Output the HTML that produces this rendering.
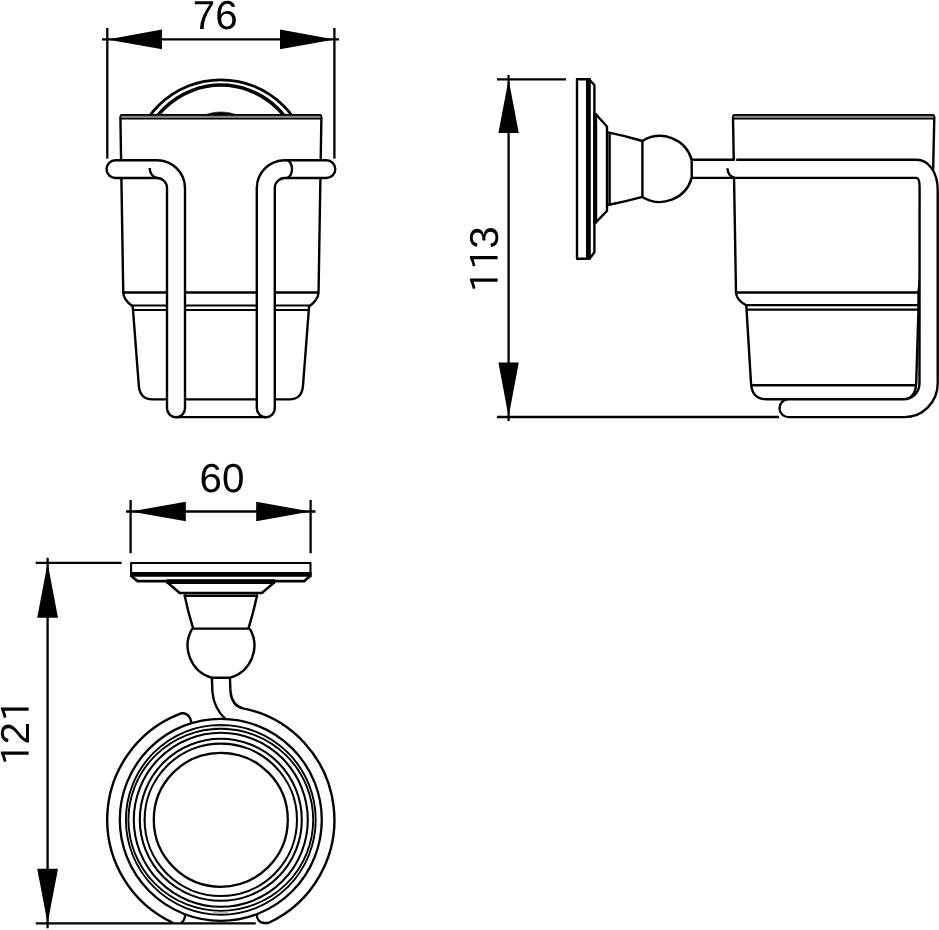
<!DOCTYPE html>
<html><head><meta charset="utf-8"><title>Dimensions</title>
<style>
html,body{margin:0;padding:0;background:#fff;}
svg{display:block;}
.d{font-family:"Liberation Sans",Arial,sans-serif;font-size:40.4px;fill:#000;text-rendering:geometricPrecision;}
svg{will-change:transform;}
.o{font-family:"IPAPGothic","IPAGothic","Liberation Sans",sans-serif;font-size:38px;}
</style></head><body>
<svg width="939" height="930" viewBox="0 0 939 930" stroke-linecap="butt" stroke-linejoin="round">
<rect width="939" height="930" fill="#fff"/>
<g id="front">
<line x1="107.3" y1="28" x2="107.3" y2="158.6" stroke="#000" stroke-width="2.3" />
<line x1="334.4" y1="28" x2="334.4" y2="158.6" stroke="#000" stroke-width="2.3" />
<line x1="102" y1="39.4" x2="339" y2="39.4" stroke="#000" stroke-width="2.3" />
<polygon points="107.3,39.4 162,29.6 162,49.2" fill="#000"/>
<polygon points="334.4,39.4 280,29.6 280,49.2" fill="#000"/>
<text id="t76" x="192.7" y="29" class="d">76</text>
<clipPath id="cpA"><rect x="100" y="60" width="250" height="54.6"/></clipPath>
<g clip-path="url(#cpA)"><circle cx="220.9" cy="168.4" r="88.5" fill="none" stroke="#000" stroke-width="2.7"/><circle cx="220.9" cy="165.7" r="80.6" fill="none" stroke="#000" stroke-width="3.5"/></g>
<path d="M205.4,114.6 Q220.9,109.2 236.4,114.6 Z" fill="#000" stroke="#000" stroke-width="0.6" />
<path d="M120.4,117 L123.25,292.5 Q123.5,300 132.75,306.5 L138.75,385 Q139.6,399.4 152.5,399.4 L289.3,399.4 Q302.2,399.4 303.05,385 L309.05,306.5 Q318.3,300 318.55,292.5 L321.4,117" fill="#fff" stroke="#000" stroke-width="2.4" />
<rect x="120.4" y="114.9" width="200.99999999999997" height="3.8" rx="1.2" fill="#808080" stroke="#000" stroke-width="1.6"/>
<line x1="123.25" y1="292.5" x2="318.55" y2="292.5" stroke="#000" stroke-width="2.4" />
<line x1="131" y1="305.5" x2="310.8" y2="305.5" stroke="#000" stroke-width="2.2" />
<line x1="133.3" y1="310" x2="308.5" y2="310" stroke="#000" stroke-width="2.2" />
<line x1="176" y1="417.1" x2="266" y2="417.1" stroke="#000" stroke-width="2.4" />
<path d="M115.4,160.2 L157,160.2 A28,28 0 0 1 185,188.2 L185,408.3 A9,9 0 0 1 167,408.3 L167,188.2 A10,10 0 0 0 157,178 L115.4,178 A8.9,8.9 0 0 1 115.4,160.2 Z" fill="#fff" stroke="#000" stroke-width="2.4" />
<path d="M326.4,160.2 L284.8,160.2 A28,28 0 0 0 256.8,188.2 L256.8,408.3 A9,9 0 0 0 274.8,408.3 L274.8,188.2 A10,10 0 0 1 284.8,178 L326.4,178 A8.9,8.9 0 0 0 326.4,160.2 Z" fill="#fff" stroke="#000" stroke-width="2.4" />
<path d="M149.7,168 Q150,176.3 157,178" fill="none" stroke="#000" stroke-width="2.4" />
<path d="M287.4,160.2 C290.2,161.6 292,165 292,169 C292,173 290.2,176.6 287.2,178" fill="none" stroke="#000" stroke-width="2.4" />
</g>
<g id="side">
<line x1="497" y1="79.3" x2="566" y2="79.3" stroke="#000" stroke-width="2.3" />
<line x1="497" y1="417" x2="779" y2="417" stroke="#000" stroke-width="2.3" />
<line x1="508.6" y1="75" x2="508.6" y2="421" stroke="#000" stroke-width="2.3" />
<polygon points="508.6,79.3 498.4,133 518.8,133" fill="#000"/>
<polygon points="508.6,417 498.4,362.5 518.8,362.5" fill="#000"/>
<text id="t113" transform="translate(497.8,290) rotate(-90)" class="d"><tspan class="o" x="-3">1</tspan><tspan class="o" x="19.6">1</tspan><tspan x="41.3">3</tspan></text>
<path d="M733,117 L736,292.5 Q736.3,300 746.3,305.4 L751,383 Q751.8,399.3 766.5,399.3 L903,399.3 Q915.5,399.3 916.2,383 L918.5,309.5 L918.5,292 L933.2,168 L934.3,117" fill="#fff" stroke="#000" stroke-width="2.4" />
<rect x="733" y="114.9" width="201.3" height="3.8" rx="1.2" fill="#808080" stroke="#000" stroke-width="1.6"/>
<line x1="736" y1="292.5" x2="919" y2="292.5" stroke="#000" stroke-width="2.4" />
<line x1="745" y1="305.1" x2="919" y2="305.1" stroke="#000" stroke-width="2.2" />
<line x1="746.6" y1="309.7" x2="919" y2="309.7" stroke="#000" stroke-width="2.2" />
<line x1="751.3" y1="385.3" x2="916.3" y2="385.3" stroke="#000" stroke-width="2.4" />
<path d="M691.7,159.8 L916.4,159.8 C928.5,159.8 937.7,172 937.7,190 L937.7,383.6 A33.5,33.5 0 0 1 904.2,417.1 L788.4,417.1 A8.9,8.9 0 0 1 788.4,399.3 L903.5,399.3 A16,16 0 0 0 919.5,383.3 L919.6,187.7 C919.6,182 918.6,178 916.4,177.9 L691.7,177.9 Z" fill="#fff" stroke="#000" stroke-width="2.4" />
<path d="M727.4,168.3 Q727.8,176.4 734.6,177.7" fill="none" stroke="#000" stroke-width="2.4" />
<rect x="734.9" y="158.4" width="1.3" height="2.8" fill="#fff"/>
<path d="M588.4,79.2 L577,79.2 L577,258.7 L588.4,258.7" fill="none" stroke="#000" stroke-width="2.4" />
<line x1="588.4" y1="78.1" x2="588.4" y2="259.8" stroke="#000" stroke-width="4.8" />
<path d="M589,79.2 L594.4,85 L594.4,252.3 L589.5,258.8" fill="none" stroke="#000" stroke-width="2.4" />
<line x1="595.2" y1="113" x2="595.2" y2="223.5" stroke="#000" stroke-width="4.0" />
<path d="M595.6,114 L607,126.5 L607,210.9 L595.6,222.7" fill="none" stroke="#000" stroke-width="2.4" />
<line x1="609.6" y1="132.4" x2="609.6" y2="205" stroke="#000" stroke-width="2.4" />
<path d="M608,132.4 Q626,136 642.4,141 L642.4,196.9 Q626,201.5 608,205" fill="none" stroke="#000" stroke-width="2.4" />
<path d="M642.4,141 A33,33 0 0 1 691.7,159.8" fill="none" stroke="#000" stroke-width="2.4" />
<path d="M642.4,196.9 A33,33 0 0 0 691.7,177.9" fill="none" stroke="#000" stroke-width="2.4" />
</g>
<g id="top">
<line x1="130.6" y1="500" x2="130.6" y2="553.2" stroke="#000" stroke-width="2.3" />
<line x1="310.6" y1="500" x2="310.6" y2="553.2" stroke="#000" stroke-width="2.3" />
<line x1="126" y1="511.5" x2="315.5" y2="511.5" stroke="#000" stroke-width="2.3" />
<polygon points="130.6,511.5 185.8,501.8 185.8,521.3" fill="#000"/>
<polygon points="310.6,511.5 256.2,501.8 256.2,521.3" fill="#000"/>
<text id="t60" x="199.5" y="492" class="d">60</text>
<line x1="35.7" y1="562.9" x2="121.7" y2="562.9" stroke="#000" stroke-width="2.3" />
<line x1="35.7" y1="923.3" x2="255.8" y2="923.3" stroke="#000" stroke-width="2.3" />
<line x1="47.6" y1="557.8" x2="47.6" y2="928.2" stroke="#000" stroke-width="2.3" />
<polygon points="47.6,562.9 37.2,617.8 58,617.8" fill="#000"/>
<polygon points="47.6,923.3 37.2,868.7 58,868.7" fill="#000"/>
<text id="t121" transform="translate(29,764) rotate(-90)" class="d"><tspan class="o" x="-2">1</tspan><tspan x="19.5">2</tspan><tspan class="o" x="42">1</tspan></text>
<path d="M131.1,575 L131.1,563 L310.5,563 L310.5,575" fill="none" stroke="#000" stroke-width="2.1" />
<line x1="130" y1="574.4" x2="311.6" y2="574.4" stroke="#000" stroke-width="4.6" />
<path d="M130.6,575.2 L137.6,581.2 L304.0,581.2 L311.0,575.2" fill="none" stroke="#000" stroke-width="2.8" />
<line x1="166.5" y1="581.6" x2="275.1" y2="581.6" stroke="#000" stroke-width="4.6" />
<path d="M166.9,582 L179.7,593 L261.9,593 L274.7,582" fill="none" stroke="#000" stroke-width="2.4" />
<line x1="184.4" y1="595.8" x2="257.2" y2="595.8" stroke="#000" stroke-width="2.4" />
<path d="M184.4,594.5 Q188,612 193.2,628.6 L248.4,628.6 Q253.6,612 257.2,594.5" fill="none" stroke="#000" stroke-width="2.4" />
<path d="M192.3,628.6 A33.4,33.4 0 0 0 211.6,677.7 L230.3,677.7 A33.4,33.4 0 0 0 249.7,628.6" fill="none" stroke="#000" stroke-width="2.4" />
<path d="M211.9,677.7 L212.4,692 C213.5,704 218.5,712.5 225.3,718.9" fill="none" stroke="#000" stroke-width="2.4" />
<circle cx="220.8" cy="819.8" r="101.0" fill="none" stroke="#000" stroke-width="2.3"/>
<circle cx="220.8" cy="819.8" r="94.9" fill="none" stroke="#000" stroke-width="1.9"/>
<circle cx="220.8" cy="819.8" r="87" fill="none" stroke="#000" stroke-width="2.1"/>
<circle cx="220.8" cy="819.8" r="81" fill="none" stroke="#000" stroke-width="2.1"/>
<circle cx="220.8" cy="819.8" r="76.2" fill="none" stroke="#000" stroke-width="2.1"/>
<circle cx="220.8" cy="819.8" r="67.0" fill="none" stroke="#000" stroke-width="2.3"/>
<ellipse cx="220.8" cy="819.8" rx="92.4" ry="91.05" fill="none" stroke="#000" stroke-width="1.9"/>
<path d="M213,726.85 Q220.8,726.4 228.6,726.85" fill="none" stroke="#a8a8a8" stroke-width="1.4"/>
<path d="M213,912.75 Q220.8,913.2 228.6,912.75" fill="none" stroke="#a8a8a8" stroke-width="1.4"/>
<path d="M229.9,677.7 L230.5,692 C231.5,701.5 236,706.6 243.0,708.39 A113.6,113.6 0 0 1 268.28,923.0 L264.5,923 C259.5,923 256.9,919 256.7,914.6" fill="none" stroke="#000" stroke-width="2.4" />
<path d="M191.3,722.4 C190,713.5 183.5,711.8 178.5,714.37 A113.6,113.6 0 0 0 173.32,923.0" fill="none" stroke="#000" stroke-width="2.4" />
<path d="M185.1,914.4 Q185.3,919.5 181.3,923" fill="none" stroke="#000" stroke-width="2.4" />
</g>
</svg>
</body></html>
